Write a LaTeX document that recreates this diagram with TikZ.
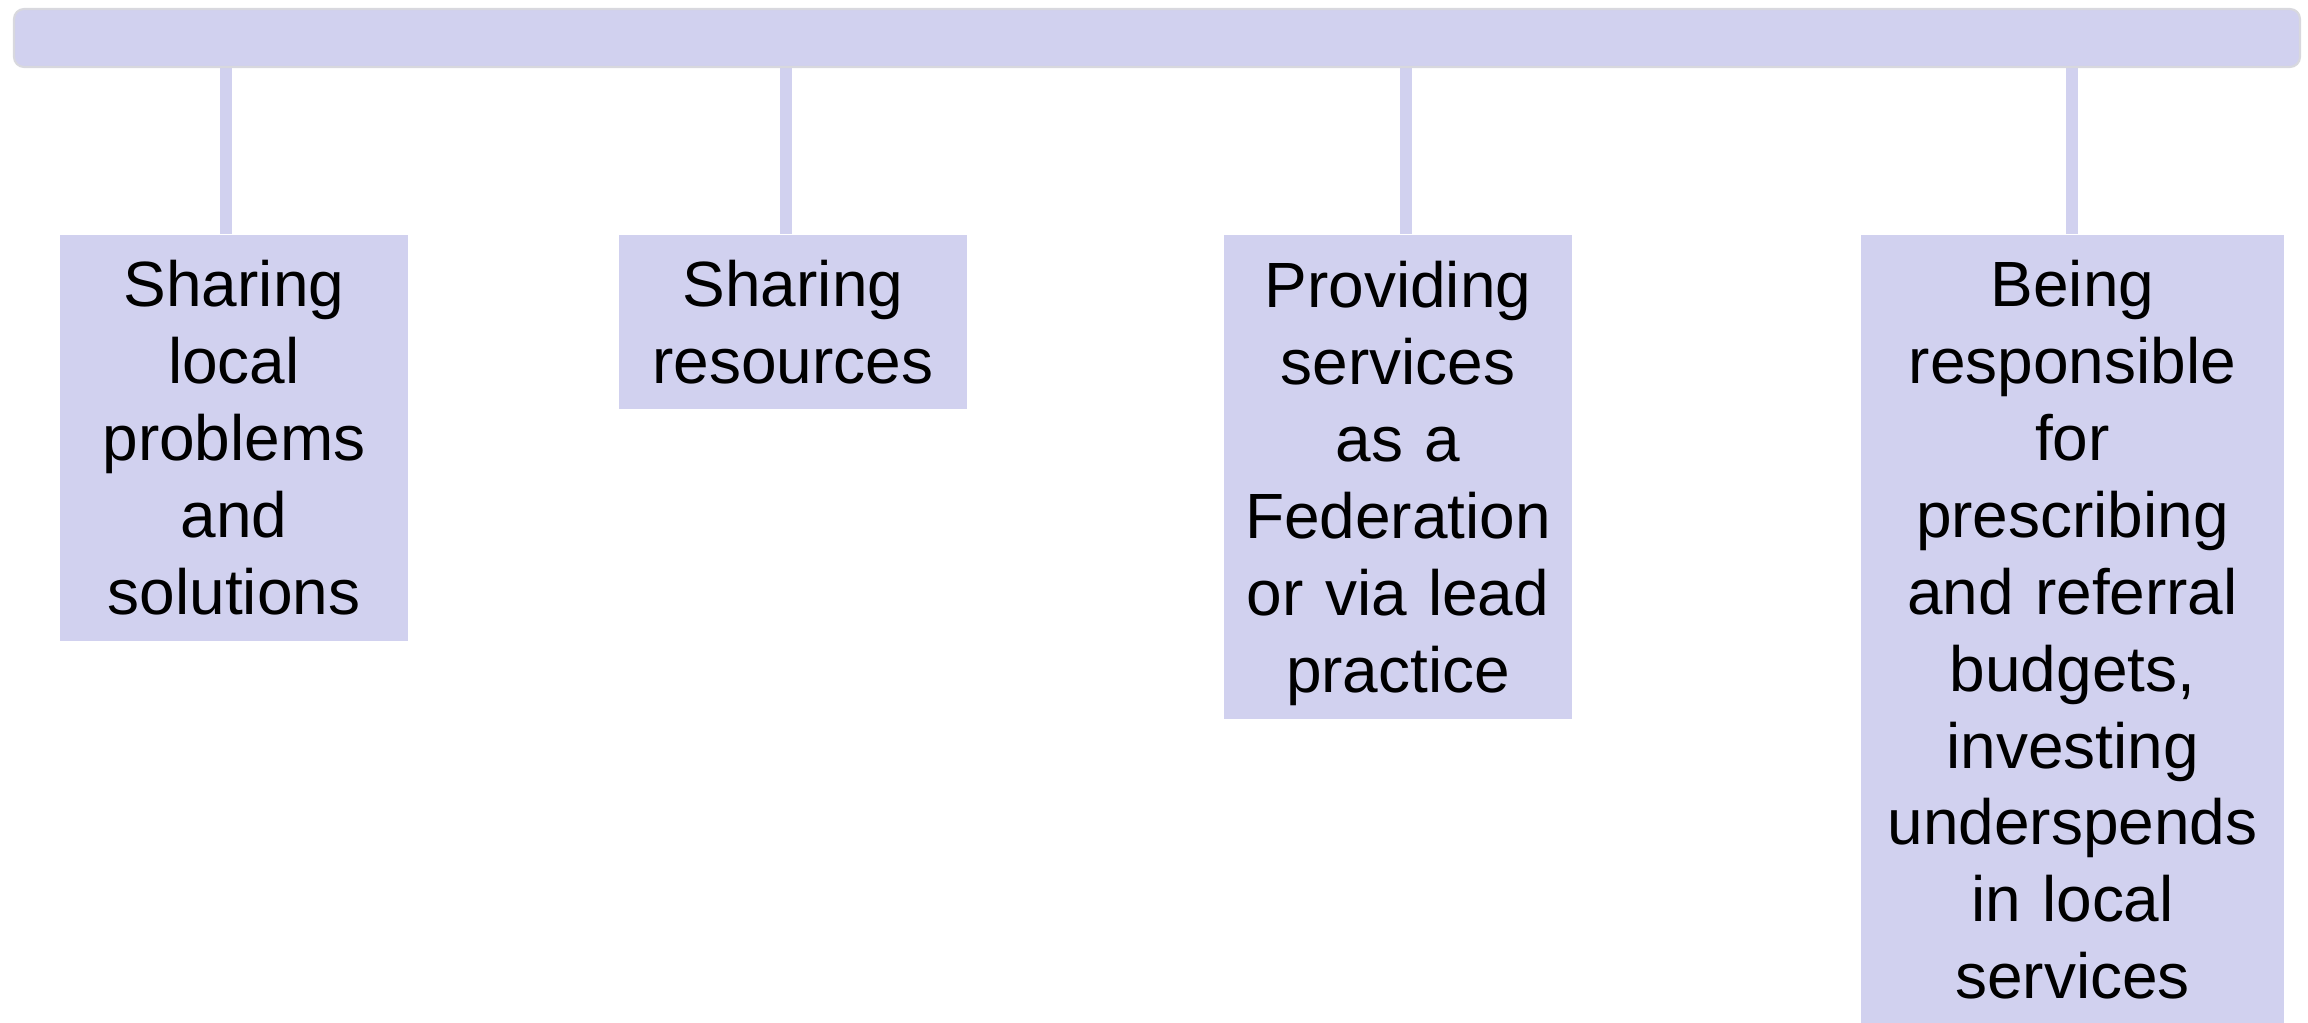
\documentclass[tikz,border=0pt]{standalone}
\usepackage{fontspec}
\setmainfont{Liberation Sans}
\usepackage{tikz}
\definecolor{lilac}{RGB}{209,209,239}
\definecolor{rimgray}{RGB}{216,216,222}
\tikzset{
  topbar/.style={fill=lilac, draw=rimgray, line width=0.6pt, rounded corners=0.1cm, minimum width=22.86cm, minimum height=0.58cm, inner sep=0},
  card/.style={fill=lilac, anchor=north, inner sep=0, align=center, font=\fontsize{18.2pt}{21.9pt}\selectfont},
  stem/.style={draw=lilac, line width=0.12cm}
}

\begin{document}
\begin{tikzpicture}
\useasboundingbox (0,0) rectangle (23.08,-10.23);
\clip (0,0) rectangle (23.08,-10.23);
% the four cards under the bar
\node[card, text width=3.48cm, minimum height=4.06cm] (share) at (2.34,-2.34) {Sharing\\local\\problems\\and\\solutions};
\node[card, text width=3.48cm, minimum height=1.74cm] (res) at (7.93,-2.34) {Sharing\\resources};
\node[card, text width=3.48cm, minimum height=4.84cm] (fed) at (13.98,-2.34) {Providing\\services\\as a\\Federation\\or via lead\\\smash{practice}};
\node[card, text width=4.23cm, minimum height=7.9cm] (budget) at (20.725,-2.34) {Being\\responsible\\for\\prescribing\\and referral\\budgets,\\investing\\underspends\\in local\\services};
% stems
\coordinate (s1) at (2.26,-0.66);
\coordinate (s2) at (7.86,-0.66);
\coordinate (s3) at (14.06,-0.66);
\coordinate (s4) at (20.72,-0.66);
\draw[stem] (s1) -- (s1 |- share.north);
\draw[stem] (s2) -- (s2 |- res.north);
\draw[stem] (s3) -- (s3 |- fed.north);
\draw[stem] (s4) -- (s4 |- budget.north);
% bar
\node[topbar] (bar) at (11.57,-0.38) {};
\end{tikzpicture}
\end{document}
